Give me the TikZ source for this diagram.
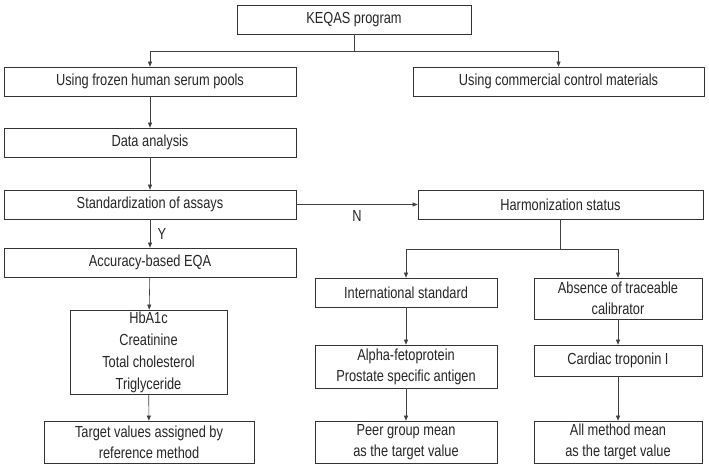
\documentclass[tikz,border=0pt]{standalone}
\usepackage{fontspec}
\setmainfont{Liberation Sans}[FakeStretch=0.8]
\usetikzlibrary{arrows.meta}

\begin{document}
\begin{tikzpicture}[
	x=1pt,y=-1pt,
	box/.style={
		rectangle,
		draw=black!80,
		line width=0.7pt,
		fill=white,
		align=center,
		inner sep=0pt,
		minimum height=29pt,
		text=black!85,
		font=\fontsize{16}{21}\selectfont
	},
	wide/.style={box,minimum width=292pt},
	edge/.style={-{Triangle[length=5pt,width=4pt]},line width=0.6pt,black!75},
	link/.style={line width=0.6pt,black!75},
	label/.style={font=\fontsize{16}{16}\selectfont,black!85}
]
\useasboundingbox (0,0) rectangle (709,474);

% Top
\node[box,minimum width=234pt] (keqas) at (354,19.5) {KEQAS program};
\coordinate (split) at (354,51);

% Left column
\node[wide] (frozen) at (150,81.5) {Using frozen human serum pools};
\node[wide] (data) at (150,142.5) {Data analysis};
\node[wide] (stand) at (150,204.5) {Standardization of assays};
\node[wide] (acc) at (150,262.5) {Accuracy-based EQA};
\node[box,minimum width=157pt,minimum height=84pt,font=\fontsize{16}{22}\selectfont] (analytes) at (148.5,352) {HbA1c\\Creatinine\\Total cholesterol\\Triglyceride};
\node[box,minimum width=210pt,minimum height=42pt] (refmeth) at (149,442) {Target values assigned by\\reference method};

% Right side
\node[box,minimum width=291pt] (commercial) at (558.5,81.5) {Using commercial control materials};
\node[box,minimum width=285pt] (harm) at (560.5,204.5) {Harmonization status};
\coordinate (hsplit) at (560.5,249);

\node[box,minimum width=182pt] (intl) at (406,292.5) {International standard};
\node[box,minimum width=182pt,minimum height=43pt] (afp) at (406,366.5) {Alpha-fetoprotein\\Prostate specific antigen};
\node[box,minimum width=182pt,minimum height=42pt] (peer) at (406,442) {Peer group mean\\as the target value};

\node[box,minimum width=168pt,minimum height=41pt] (absent) at (618,298.5) {Absence of traceable\\calibrator};
\node[box,minimum width=168pt,minimum height=31pt] (ctni) at (618,360.5) {Cardiac troponin I};
\node[box,minimum width=168pt,minimum height=42pt] (allm) at (618,442) {All method mean\\as the target value};

% Connections top
\draw[link] (keqas) -- (split);
\draw[edge] (split) -| (frozen);
\draw[edge] (split) -| (commercial);

% Connections left
\draw[edge] (frozen) -- (data);
\draw[edge] (data) -- (stand);
\draw[edge] (stand) -- node[label,right,xshift=4pt]{Y} (acc);
\draw[edge] (stand) -- node[label,below,yshift=-2pt]{N} (harm);
\draw[edge] (acc) -- (analytes);
\draw[edge] (analytes) -- (refmeth);

% Connections right
\draw[link] (harm) -- (hsplit);
\draw[edge] (hsplit) -| (intl);
\draw[edge] (hsplit) -| (absent);
\draw[edge] (intl) -- (afp);
\draw[edge] (afp) -- (peer);
\draw[edge] (absent) -- (ctni);
\draw[edge] (ctni) -- (allm);

\end{tikzpicture}
\end{document}
